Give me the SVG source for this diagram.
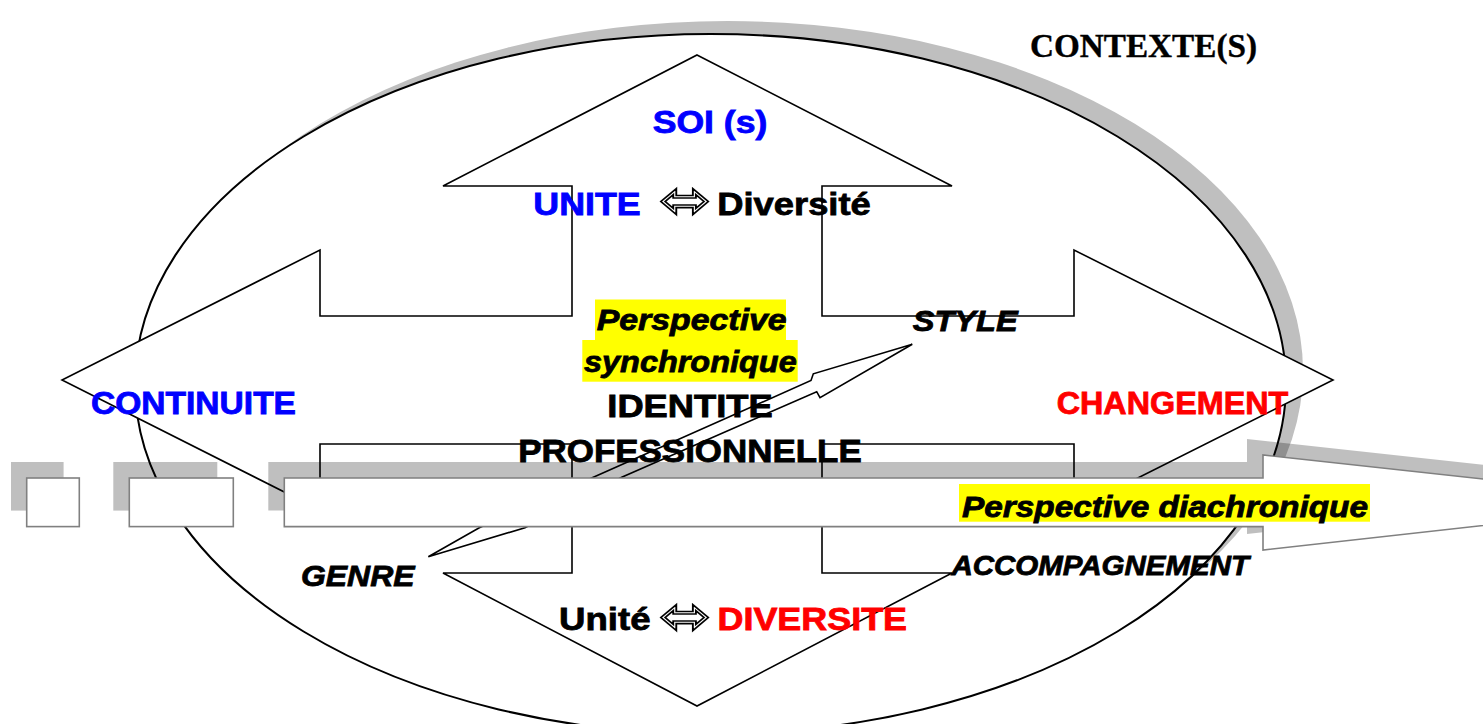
<svg xmlns="http://www.w3.org/2000/svg" width="1483" height="724" viewBox="0 0 1483 724">
<style>
.sh{fill:#000;fill-opacity:0.25;stroke:none}
.shape{fill:#fff;stroke:#000;stroke-width:1.6;stroke-linejoin:miter}
.band{fill:#fff;stroke:#808080;stroke-width:1.6}
.t{font-family:"Liberation Sans",Arial,sans-serif;font-weight:bold;font-size:31px;fill:#000;stroke:#000;stroke-width:0.8}
.i{font-style:italic;font-size:29px}
.blue{fill:#0000ff;stroke:#0000ff}
.red{fill:#ff0000;stroke:#ff0000}
.hl{fill:#ffff00;stroke:none}
.sym{font-family:"DejaVu Sans",sans-serif;font-size:52px;fill:#fff;stroke:#000;stroke-width:1.6}
.ser{font-family:"Liberation Serif","Times New Roman",serif;font-weight:bold;font-size:34px;fill:#000;stroke:#000;stroke-width:0.4}
</style>
<rect x="0" y="0" width="1483" height="724" fill="#fff"/>

<g id="contexte">
  <ellipse cx="727.5" cy="371" rx="575.5" ry="350" fill="#bfbfbf"/>
  <ellipse cx="710.5" cy="384" rx="575.5" ry="350" fill="#fff" stroke="#000" stroke-width="2"/>
</g>

<g id="identite-arrow">
  <polygon class="shape" points="697,55 952,186 822,186 822,316 1074,316 1074,250 1333,380 1074,510 1074,444 822,444 822,573 952,573 697,706 443,573 572,573 572,444 320,444 320,510 62,380 320,250 320,316 572,316 572,186 443,186"/>
</g>

<g id="connectors">
  <polygon class="shape" points="428.3,556.7 479.3,527.7 593.3,477.3 811,380.5 813.3,373.8 912.3,344.3 820,397.7 816.7,391.7 621.7,477.3 525,527.7"/>
</g>

<g id="diachronie">
  <rect class="sh" x="11" y="462" width="52.6" height="48.6"/>
  <rect class="sh" x="113.3" y="462" width="104" height="48.6"/>
  <polygon class="sh" points="268.3,462 1247,462 1247,439 1679,486 1247,534 1247,510.6 268.3,510.6"/>
  <rect class="band" x="26.7" y="478" width="52.6" height="48.6"/>
  <rect class="band" x="129.3" y="478" width="104" height="48.6"/>
  <polygon class="band" points="284.3,478 1263,478 1263,455 1695,502 1263,550 1263,526.6 284.3,526.6"/>
</g>

<g id="labels">
  <rect class="hl" x="595" y="299.5" width="191" height="40.5"/>
  <rect class="hl" x="582.3" y="340" width="215.4" height="41.7"/>
  <rect class="hl" x="959" y="484" width="411" height="37.7"/>

  <text class="ser" x="1030" y="56.7" textLength="227" lengthAdjust="spacingAndGlyphs">CONTEXTE(S)</text>
  <text class="t blue" x="652.7" y="133.3" textLength="114.6" lengthAdjust="spacingAndGlyphs">SOI (s)</text>
  <text class="t blue" x="533.3" y="215" style="font-size:32px" textLength="107.4" lengthAdjust="spacingAndGlyphs">UNITE</text>
  <text class="sym" x="659" y="217.5" textLength="52" lengthAdjust="spacingAndGlyphs">⬄</text>
  <text class="t" x="717.3" y="215" style="font-size:32px" textLength="153.4" lengthAdjust="spacingAndGlyphs">Diversité</text>

  <text class="t i" x="596.7" y="330" textLength="190" lengthAdjust="spacingAndGlyphs">Perspective</text>
  <text class="t i" x="584" y="371.7" textLength="212.7" lengthAdjust="spacingAndGlyphs">synchronique</text>
  <text class="t i" x="912.7" y="330.7" textLength="105" lengthAdjust="spacingAndGlyphs">STYLE</text>

  <text class="t blue" x="91" y="414" textLength="205" lengthAdjust="spacingAndGlyphs">CONTINUITE</text>
  <text class="t" x="607.3" y="416.7" textLength="165.4" lengthAdjust="spacingAndGlyphs">IDENTITE</text>
  <text class="t red" x="1056.7" y="414" textLength="231.6" lengthAdjust="spacingAndGlyphs">CHANGEMENT</text>
  <text class="t" x="518.3" y="461.7" textLength="343.4" lengthAdjust="spacingAndGlyphs">PROFESSIONNELLE</text>

  <text class="t i" x="962" y="516.7" textLength="406" lengthAdjust="spacingAndGlyphs">Perspective diachronique</text>

  <text class="t i" x="301" y="586" textLength="113.5" lengthAdjust="spacingAndGlyphs">GENRE</text>
  <text class="t i" x="951.5" y="575" style="font-size:27px" textLength="297.5" lengthAdjust="spacingAndGlyphs">ACCOMPAGNEMENT</text>

  <text class="t" x="559" y="630" style="font-size:32px" textLength="91.5" lengthAdjust="spacingAndGlyphs">Unité</text>
  <text class="sym" x="659" y="634" textLength="52" lengthAdjust="spacingAndGlyphs">⬄</text>
  <text class="t red" x="717.5" y="630" style="font-size:32px" textLength="189.5" lengthAdjust="spacingAndGlyphs">DIVERSITE</text>
</g>
</svg>
